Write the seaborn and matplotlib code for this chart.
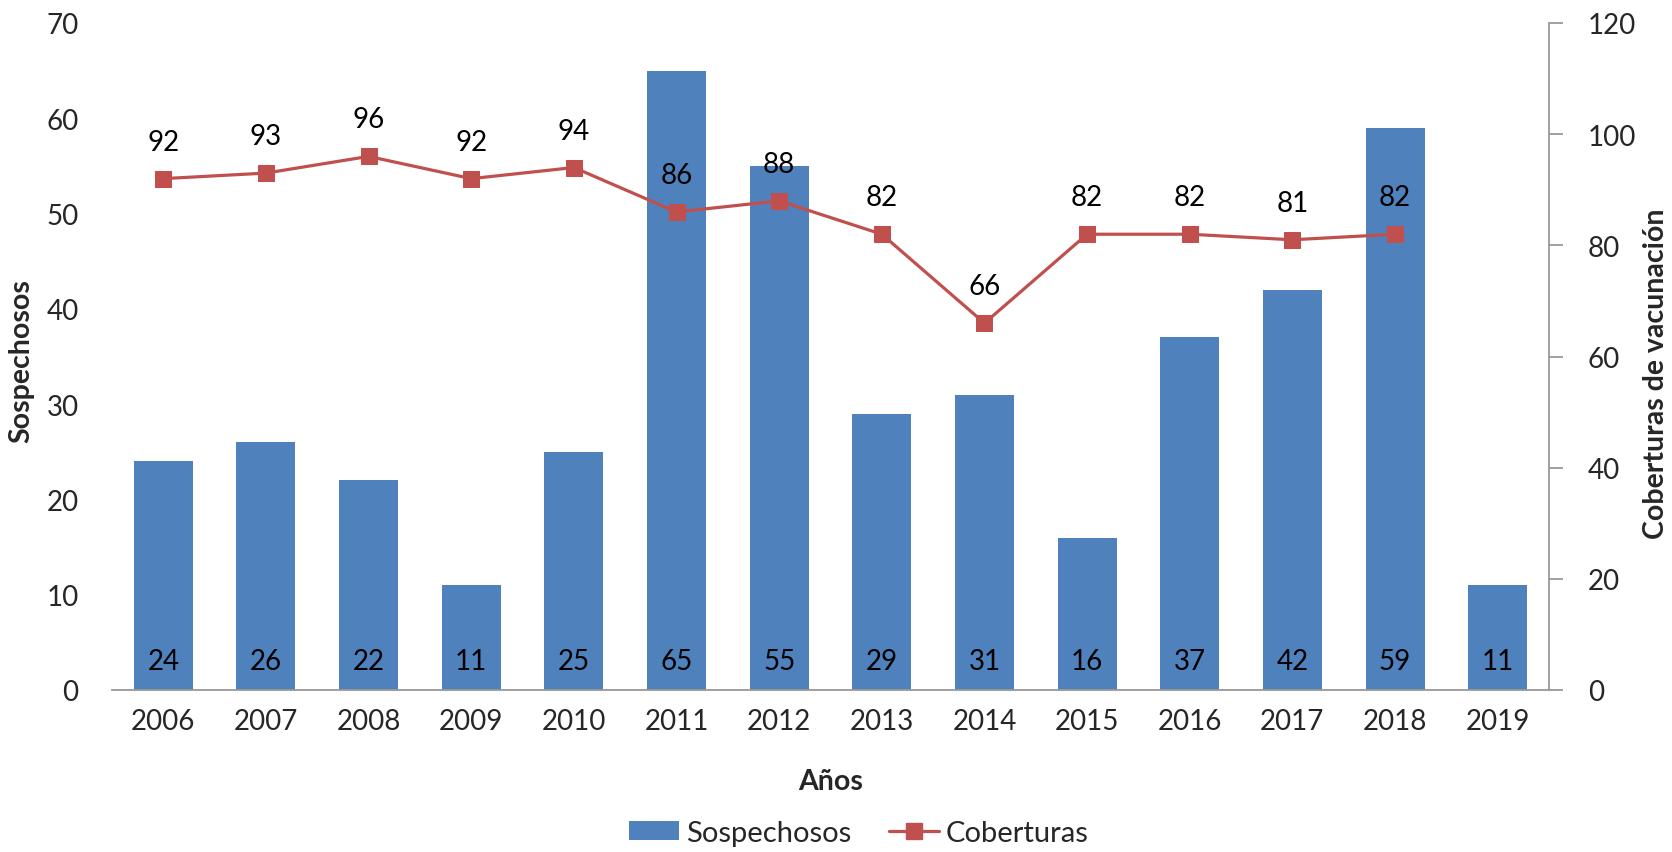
import numpy as np
import pandas as pd
import matplotlib
matplotlib.use("Agg")
import matplotlib.pyplot as plt
import seaborn as sns
from matplotlib.patches import Patch
from matplotlib.lines import Line2D

years = ["2006", "2007", "2008", "2009", "2010", "2011", "2012", "2013",
         "2014", "2015", "2016", "2017", "2018", "2019"]
sospechosos = [24, 26, 22, 11, 25, 65, 55, 29, 31, 16, 37, 42, 59, 11]
coberturas = [92, 93, 96, 92, 94, 86, 88, 82, 66, 82, 82, 81, 82, np.nan]
left_ticks = [0, 10, 20, 30, 40, 50, 60, 70]
right_ticks = [0, 20, 40, 60, 80, 100, 120]

bar_color = "#4F81BD"
line_color = "#C0504D"

sns.set_theme(style="white")
plt.rcParams['font.family'] = ['Lato', 'DejaVu Sans']

fig = plt.figure(figsize=(16.72, 8.53), dpi=100)
L, R, T, B = 112, 1549, 24, 691
ax = fig.add_axes([L/1672, 1-B/853, (R-L)/1672, (B-T)/853])
W, H = R - L, B - T
FS = 20

df = pd.DataFrame({"Año": years, "Sospechosos": sospechosos})
sns.barplot(data=df, x="Año", y="Sospechosos", color=bar_color, saturation=1,
            width=0.575, ax=ax, edgecolor="none")
ax.set_xlim(-0.5, len(years) - 0.5)
ax.set_ylim(0, 70)
ax.set_yticks(left_ticks)
ax.tick_params(axis="y", labelsize=FS, length=0, pad=24)
ax.tick_params(axis="x", labelsize=FS, length=0, pad=13)
for s in ["top", "left", "right"]:
    ax.spines[s].set_visible(False)
ax.spines["bottom"].set_color("#999999")
ax.spines["bottom"].set_linewidth(1.3)
ax.set_xlabel("Años", fontsize=20.5, fontweight="bold")
ax.set_ylabel("Sospechosos", fontsize=20.5, fontweight="bold")
ax.xaxis.set_label_coords(0.5, (B - 782) / H)
ax.yaxis.set_label_coords((21 - L) / W, (B - 361) / H)
ax.xaxis.label.set_va("center")
ax.yaxis.label.set_va("center")

# bar value labels inside base
for i, v in enumerate(sospechosos):
    ax.annotate(str(v), (i, 0), xytext=(0, 29), textcoords="offset pixels",
                ha="center", va="center", fontsize=FS, color="black")

ax2 = ax.twinx()
xpos = np.arange(len(years))
dline = pd.DataFrame({"x": xpos, "Coberturas": coberturas}).dropna()
sns.lineplot(data=dline, x="x", y="Coberturas", color=line_color, marker="s",
             markersize=12, markeredgecolor=line_color, linewidth=2.3, ax=ax2)
ax2.set_ylim(0, 120)
ax2.set_yticks(right_ticks)
ax2.set_xlim(-0.5, len(years) - 0.5)
ax2.tick_params(axis="y", labelsize=FS, length=10, width=1.3, color="#999999",
                pad=18, right=True)
for s in ["top", "left", "bottom"]:
    ax2.spines[s].set_visible(False)
ax2.spines["right"].set_color("#999999")
ax2.spines["right"].set_linewidth(1.3)
ax2.set_ylabel("Coberturas de vacunación", fontsize=20.5, fontweight="bold")
ax2.yaxis.set_label_coords((1656 - L) / W, (B - 374) / H)
ax2.yaxis.label.set_va("center")
ax2.set_xlabel("")

for xi, v in zip(dline["x"], dline["Coberturas"]):
    ax2.annotate(f"{int(v)}", (xi, v), xytext=(0, 37), textcoords="offset pixels",
                 ha="center", va="center", fontsize=FS, color="black")

handles = [Patch(facecolor=bar_color, edgecolor="none"),
           Line2D([0], [0], color=line_color, marker="s", markersize=12,
                  linewidth=2.3)]
fig.legend(handles, ["Sospechosos", "Coberturas"], loc="center",
           bbox_to_anchor=(859/1672, 1-834/853), ncol=2, frameon=False,
           fontsize=21, handlelength=1.7, handleheight=0.6, columnspacing=1.3,
           handletextpad=0.25)

fig.savefig("out.png", dpi=100)
